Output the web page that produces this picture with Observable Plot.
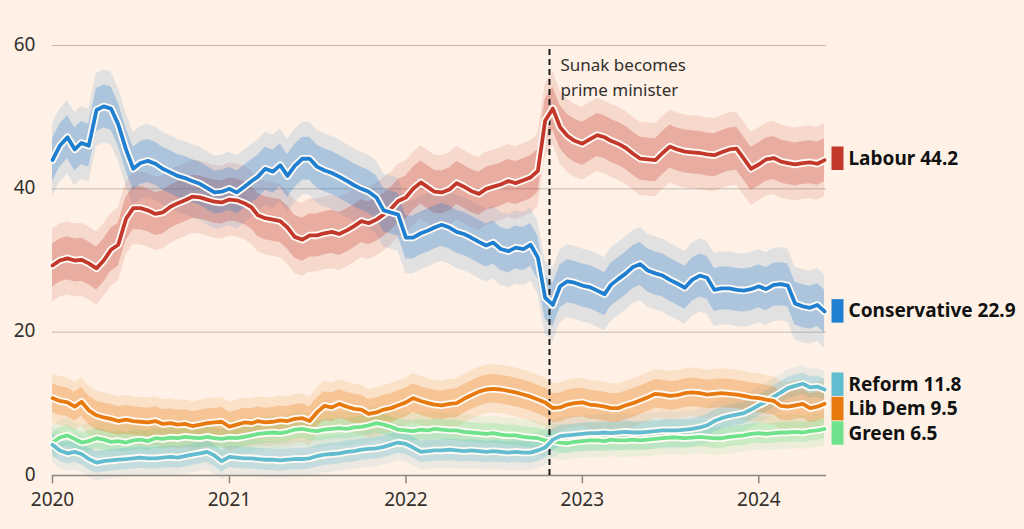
<!DOCTYPE html>
<html>
<head>
<meta charset="utf-8">
<script src="https://cdn.jsdelivr.net/npm/d3@7"></script>
<script src="https://cdn.jsdelivr.net/npm/@observablehq/plot@0.6"></script>
<style>
  html, body { margin: 0; padding: 0; background: #fff1e5; }
  #chart { width: 1024px; height: 529px; }
</style>
</head>
<body>
<div id="chart"></div>
<script>
// Semi-monthly sample points (1st and 16th of each month), Jan 2020 – May 2024
const startYear = 2020;
const monthCount = 53;
const domainEnd = "2024-05-20";
const sunakDate = "2022-10-25";
const yearTicks = ["2020-01-01", "2021-01-01", "2022-01-01", "2023-01-01", "2024-01-01"];
const yTicks = [0, 20, 40, 60];

const parties = ["Labour", "Conservative", "Reform", "Lib Dem", "Green"];
const latest = [44.2, 22.9, 11.8, 9.5, 6.5];
const colors = ["#c4382c", "#1f7fd1", "#62bccf", "#e8790f", "#6fe28c"];
const spread = [3, 3, 1.5, 2, 1.4];

const labour = [29.3,30,30.3,30,30.1,29.6,28.9,30,31.5,32.2,35.8,37.3,37.3,37,36.5,36.7,37.5,38,38.4,38.9,
  38.8,38.5,38.2,38.1,38.5,38.4,38,37.4,36.3,35.9,35.7,35.5,34.6,33.3,32.9,33.5,33.5,33.8,34,33.7,
  34.2,34.8,35.5,35.2,35.7,36.4,37.2,38.3,38.8,40,40.9,40.2,39.6,39.5,39.9,40.8,40.3,39.7,39.3,40,
  40.3,40.6,41.1,40.8,41.2,41.6,42.5,49.5,51.2,48.6,47.4,46.7,46.3,46.9,47.5,47.2,46.7,46.3,45.7,44.9,
  44.2,44.1,44,45,45.9,45.5,45.2,45.1,45,44.8,44.7,45.1,45.5,45.6,44.2,42.8,43.4,44.1,44.3,43.8,
  43.6,43.4,43.6,43.7,43.5,44];
const conservative = [44,46,47.2,45.5,46.4,46,51,51.5,51.2,49,45.5,42.8,43.6,43.9,43.5,42.8,42.3,41.8,41.5,41.1,
  40.7,40.1,39.5,39.6,40,39.5,40.3,41.1,41.7,42.8,42.4,43.3,41.8,43.2,44.2,44.2,43.1,42.6,42.2,41.7,
  41.1,40.5,40,39.6,38.8,37,36.7,36.4,33.2,33.2,33.8,34.2,34.6,35,34.6,34,33.7,33.2,32.6,32.1,
  32.5,31.6,31.3,31.8,31.6,32.2,30.4,24.8,23.8,26.4,27.1,26.9,26.5,26.3,25.8,25.3,26.6,27.4,28.2,29.1,
  29.5,28.6,28.2,27.9,27.3,26.8,26.2,27.3,27.9,27.6,25.9,26.1,26.1,25.9,25.8,26,26.4,26,26.6,26.7,
  26.5,24,23.6,23.4,23.8,22.9];
const reform = [4.3,3.5,3.1,3.3,3,2.3,1.8,2,2.1,2.2,2.3,2.4,2.5,2.4,2.4,2.5,2.6,2.5,2.7,2.9,
  3.1,3.3,2.8,2,2.6,2.5,2.4,2.4,2.3,2.2,2.2,2.1,2.2,2.3,2.3,2.4,2.7,2.9,3,3.1,
  3.3,3.4,3.6,3.7,3.8,4,4.3,4.6,4.4,3.9,3.3,3.4,3.5,3.5,3.6,3.5,3.4,3.5,3.4,3.3,
  3.4,3.3,3.2,3.3,3.2,3.2,3.5,3.9,5,5.5,5.6,5.7,5.8,5.9,5.9,6,5.9,6,6.1,6,
  6,6.1,6.2,6.3,6.3,6.3,6.4,6.5,6.7,7,7.6,8,8.3,8.5,8.7,9.2,9.8,10.3,11,11.6,
  12.2,12.5,12.8,12.3,12.4,12];
const libDem = [10.8,10.4,10.2,9.6,10.3,9.1,8.4,8.1,7.9,7.6,7.8,7.6,7.5,7.4,7.6,7.2,7.3,7.1,7.2,6.9,
  7.1,7.3,7.4,7.5,6.8,7.1,7.4,7.3,7.6,7.4,7.5,7.7,7.6,7.9,8,7.6,8.8,9.7,9.5,10,
  9.6,9.3,9.2,8.6,8.8,9.2,9.4,9.8,10.2,10.8,10.4,10.1,9.9,9.8,10,10.1,10.7,11.2,11.7,12,
  12.1,12,11.8,11.6,11.3,11,10.6,10.2,9.4,9.5,9.9,10.1,10.2,9.9,9.8,9.6,9.4,9.4,9.8,10.1,
  10.5,10.9,11.4,11.3,11.1,11.2,11.5,11.6,11.5,11.3,11.4,11.5,11.4,11.3,11.1,10.9,10.8,10.6,10.4,9.7,
  9.6,9.8,10,9.4,9.6,10];
const green = [4.6,5.3,5.6,5.1,4.6,4.8,5.2,5,4.7,4.8,4.6,4.9,5,4.8,5.2,5.1,5.3,5.2,5.4,5.3,
  5.2,5.4,5.2,5.1,5.3,5.2,5.4,5.6,5.8,5.9,6,5.9,6.1,6.4,6.5,6.3,6.2,6.4,6.5,6.6,
  6.5,6.7,6.8,7,7.3,7.1,6.8,6.4,6.3,6.2,6.4,6.3,6.5,6.4,6.3,6.3,6.1,6,5.9,5.8,
  5.9,5.7,5.6,5.6,5.4,5.3,5.2,4.9,4.8,4.6,4.5,4.7,4.8,4.9,4.9,4.8,5,4.9,4.9,5,
  4.9,5,5.1,5.2,5.3,5.3,5.2,5.3,5.4,5.3,5.2,5.2,5.4,5.5,5.6,5.8,5.9,5.8,5.9,6,
  6,6.1,6,6.2,6.3,6.5];

const seriesList = [labour, conservative, reform, libDem, green];

// build sample dates
const dates = [];
for (let m = 0; m < monthCount; m++) {
  dates.push(new Date(Date.UTC(startYear, m, 1)));
  dates.push(new Date(Date.UTC(startYear, m, 16)));
}
const parse = s => new Date(s + "T00:00:00Z");

const partyRows = parties.map((p, k) =>
  seriesList[k].map((v, i) => ({party: p, date: dates[i], value: v, s: spread[k]})));

// end labels with simple dodge (in value units)
const pxPerUnit = 430 / 60;
const minGap = 24.4 / pxPerUnit;
const labels = parties.map((p, k) => ({party: p, value: latest[k], color: colors[k], ly: latest[k]}));
const sorted = labels.slice().sort((a, b) => b.ly - a.ly);
for (let it = 0; it < 200; it++) {
  for (let i = 0; i < sorted.length - 1; i++) {
    const gap = sorted[i].ly - sorted[i + 1].ly;
    if (gap < minGap) {
      const sh = (minGap - gap) / 2;
      sorted[i].ly += sh;
      sorted[i + 1].ly -= sh;
    }
  }
}

const endDate = parse(domainEnd);
const drawOrder = [4, 2, 3, 0, 1];

const marks = [];
marks.push(Plot.ruleY(yTicks.filter(d => d > 0), {stroke: "#c2b9b1", strokeWidth: 1}));
// outer (poll scatter) bands
for (const k of drawOrder) {
  marks.push(Plot.areaY(partyRows[k], {x: "date", y1: d => d.value - d.s * 1.7, y2: d => d.value + d.s * 1.7,
    fill: colors[k], fillOpacity: 0.13, curve: "linear"}));
}
// inner bands
for (const k of drawOrder) {
  marks.push(Plot.areaY(partyRows[k], {x: "date", y1: d => d.value - d.s, y2: d => d.value + d.s,
    fill: colors[k], fillOpacity: 0.28, curve: "linear"}));
}
marks.push(Plot.ruleY([0], {stroke: "#8c8580", strokeWidth: 1.5}));
marks.push(Plot.ruleX(yearTicks.map(parse), {x: d => d, y1: 0, y2: -1.15, stroke: "#8c8580", strokeWidth: 1.5}));
marks.push(Plot.ruleX([parse(sunakDate)], {x: d => d, y1: 0, y2: 60, stroke: "#1a1a1a", strokeWidth: 2, strokeDasharray: "6,4"}));
for (const k of drawOrder) {
  marks.push(Plot.line(partyRows[k], {x: "date", y: "value", stroke: "#fffaf4", strokeWidth: 7.5, strokeLinejoin: "round"}));
  marks.push(Plot.line(partyRows[k], {x: "date", y: "value", stroke: colors[k], strokeWidth: 3.8, strokeLinejoin: "round"}));
}
marks.push(Plot.text([{date: parse(sunakDate), t: "Sunak becomes\nprime minister"}], {
  x: "date", y: () => 60, text: "t", dx: 11, dy: 8, textAnchor: "start", lineAnchor: "top",
  lineHeight: 1.45, fontSize: 17, fill: "#33302e"}));
marks.push(Plot.ruleX(labels, {x: () => endDate, y1: d => d.ly - 1.64, y2: d => d.ly + 1.64,
  stroke: d => d.color, strokeWidth: 12, dx: 11}));
marks.push(Plot.text(labels, {x: () => endDate, y: "ly", text: d => `${d.party} ${d.value}`,
  dx: 22, textAnchor: "start", fontSize: 19, fontWeight: 700, fill: "#111111"}));
marks.push(Plot.axisY({ticks: yTicks, tickSize: 0, tickPadding: 17, fontSize: 19, fill: "#33302e", label: null, dy: -1}));
marks.push(Plot.axisX({ticks: yearTicks.map(parse), tickSize: 0, tickPadding: 17, tickFormat: d3.utcFormat("%Y"),
  fontSize: 19, fill: "#33302e", label: null}));

const chart = Plot.plot({
  width: 1024,
  height: 529,
  marginLeft: 52,
  marginRight: 198,
  marginTop: 45,
  marginBottom: 54,
  style: {background: "#fff1e5", fontFamily: "'Noto Sans', sans-serif", fontSize: "17px", color: "#33302e", overflow: "visible"},
  x: {type: "utc", domain: [parse("2020-01-01"), endDate], label: null},
  y: {domain: [0, 60], label: null},
  marks
});
document.getElementById("chart").appendChild(chart);
</script>
</body>
</html>
